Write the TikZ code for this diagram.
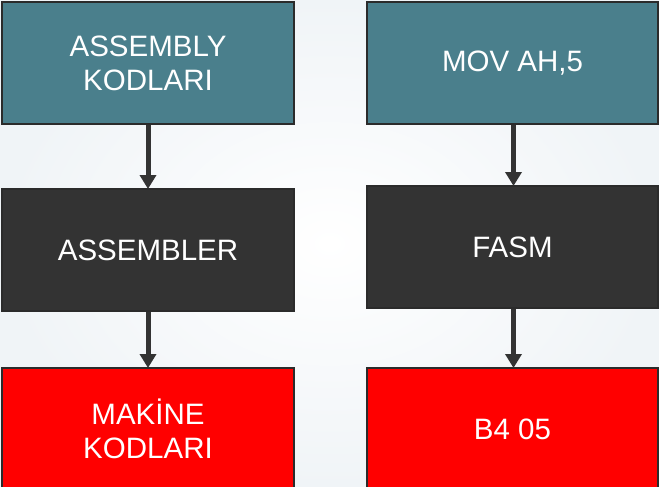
\documentclass[tikz,border=0pt]{standalone}
\usepackage{fontspec}
\setmainfont{Liberation Sans}
\usetikzlibrary{arrows.meta}
\definecolor{teal1}{HTML}{4A7F8C}
\definecolor{dark1}{HTML}{333333}
\definecolor{edge1}{HTML}{2B2B2B}
\definecolor{bgout}{HTML}{F0F4F7}
\begin{document}
\begin{tikzpicture}[x=1pt,y=-1pt,
  boxbase/.style={draw=edge1, line width=2pt, text=white, align=center,
    font=\fontsize{29.5}{34}\selectfont, inner sep=0pt, anchor=north west},
  tealbox/.style={boxbase, fill=teal1},
  darkbox/.style={boxbase, fill=dark1},
  redbox/.style={boxbase, fill=red},
  flow/.style={draw=dark1, line width=5pt, -{Triangle[width=16pt,length=14pt]}, shorten >=-1pt}]
\useasboundingbox (0,0) rectangle (659,487);
\shade[inner color=white, outer color=bgout] (0,0) rectangle (659,487);
\node[tealbox, minimum width=292pt, minimum height=122pt] (a1) at (1,1) {ASSEMBLY\\KODLARI};
\node[tealbox, minimum width=291pt, minimum height=122pt] (b1) at (366,1) {MOV AH,5};
\node[darkbox, minimum width=292pt, minimum height=122pt] (a2) at (1,188) {ASSEMBLER};
\node[darkbox, minimum width=291pt, minimum height=122pt] (b2) at (366,185) {FASM};
\node[redbox, minimum width=292pt, minimum height=122pt] (a3) at (1,367) {MAKİNE\\KODLARI};
\node[redbox, minimum width=291pt, minimum height=122pt] (b3) at (366,367) {B4 05};
\draw[flow] (a1.south) -- (a2.north);
\draw[flow] (a2.south) -- (a3.north);
\draw[flow] ([xshift=1pt]b1.south) -- ([xshift=1pt]b2.north);
\draw[flow] ([xshift=1pt]b2.south) -- ([xshift=1pt]b3.north);
\end{tikzpicture}
\end{document}
